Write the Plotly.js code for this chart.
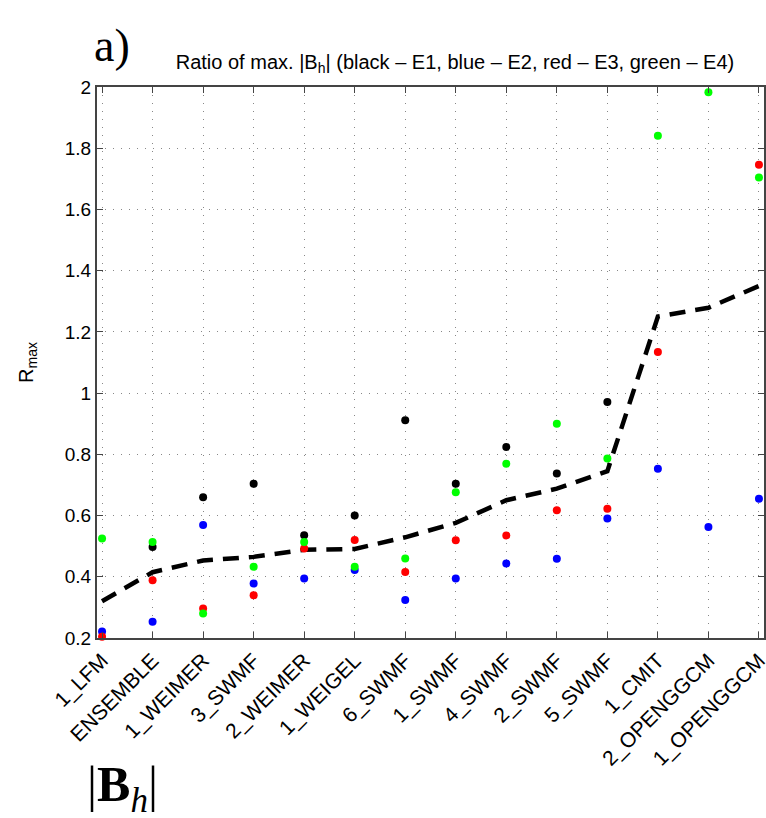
<!DOCTYPE html>
<html><head><meta charset="utf-8">
<script src="https://cdn.plot.ly/plotly-3.0.1.min.js"></script>
<style>html,body{margin:0;padding:0;background:#fff;}#chart{width:766px;height:818px;}</style>
</head><body><div id="chart"></div>
<script>
const categories = ["1_LFM","ENSEMBLE","1_WEIMER","3_SWMF","2_WEIMER","1_WEIGEL","6_SWMF","1_SWMF","4_SWMF","2_SWMF","5_SWMF","1_CMIT","2_OPENGGCM","1_OPENGGCM"];
const e1Black = [null,0.497,0.660,0.704,0.536,0.600,0.911,0.704,0.824,0.737,0.971,null,null,null];
const e2Blue  = [0.221,0.253,0.569,0.378,0.394,0.422,0.324,0.394,0.443,0.459,0.590,0.753,0.563,0.655];
const e3Red   = [0.204,0.389,0.296,0.340,0.492,0.520,0.416,0.519,0.535,0.617,0.622,1.134,null,1.746];
const e4Green = [0.525,0.514,0.280,0.433,0.514,0.433,0.460,0.676,0.769,0.900,0.786,1.841,1.983,1.704];
const meanLine = [0.320,0.415,0.453,0.465,0.488,0.491,0.529,0.576,0.650,0.688,0.745,1.250,1.279,1.350];
const yTicks = [0.2,0.4,0.6,0.8,1,1.2,1.4,1.6,1.8,2];
const yTickText = ["0.2","0.4","0.6","0.8","1","1.2","1.4","1.6","1.8","2"];

function pts(y, color){
  return {x: categories, y: y, type:'scatter', mode:'markers', cliponaxis:false,
    marker:{color: color, size: 8, line:{width:0}}, showlegend:false, hoverinfo:'skip'};
}
const traces = [
  {x: categories, y: meanLine, type:'scatter', mode:'lines', line:{color:'#000', width:4.5, dash:'16px,10px'}, showlegend:false},
  pts(e1Black,'#000000'), pts(e2Blue,'#0000ff'), pts(e3Red,'#ff0000'), pts(e4Green,'#00ff00')
];
const font = "Liberation Sans, Arial, sans-serif";
const serif = "Liberation Serif, DejaVu Serif, serif";
const layout = {
  width:766, height:818,
  margin:{l:97, r:2, t:87, b:180},
  paper_bgcolor:'#fff', plot_bgcolor:'#fff',
  font:{family:font, color:'#000', size:19},
  title:{text:'Ratio of max. |B<sub>h</sub>| (black – E1, blue – E2, red – E3, green – E4)', font:{family:font, size:20, color:'#000'}, x:0.594, xanchor:'center', y:0.924, yanchor:'middle'},
  xaxis:{type:'category', range:[-0.1,13.1], tickangle:-45, ticks:'inside', ticklen:6, tickcolor:'#444',
    showgrid:true, gridcolor:'#888', griddash:'1px,7px', gridwidth:1,
    showline:true, linecolor:'#444', linewidth:2, mirror:'ticks', zeroline:false,
    tickfont:{family:font, size:21}},
  yaxis:{range:[0.2,2], tickvals:yTicks, ticktext:yTickText, ticks:'inside', ticklen:6, tickcolor:'#444',
    showgrid:true, gridcolor:'#888', griddash:'1px,7px', gridwidth:1,
    showline:true, linecolor:'#444', linewidth:2, mirror:'ticks', zeroline:false,
    tickfont:{family:font, size:19},
    title:{text:'R<sub>max</sub>', font:{family:font, size:20}, standoff:26}},
  annotations:[
    {text:'a)', xref:'paper', yref:'paper', x:-0.008, y:1.075, xanchor:'left', yanchor:'middle', showarrow:false,
     font:{family:serif, size:46, color:'#000'}},
    {text:'|<b>B</b><sub><i>h</i></sub>|', xref:'paper', yref:'paper', x:-0.018, y:-0.272, xanchor:'left', yanchor:'middle', showarrow:false,
     font:{family:serif, size:50, color:'#000'}}
  ]
};
Plotly.newPlot('chart', traces, layout, {staticPlot:true, displayModeBar:false});
</script></body></html>
